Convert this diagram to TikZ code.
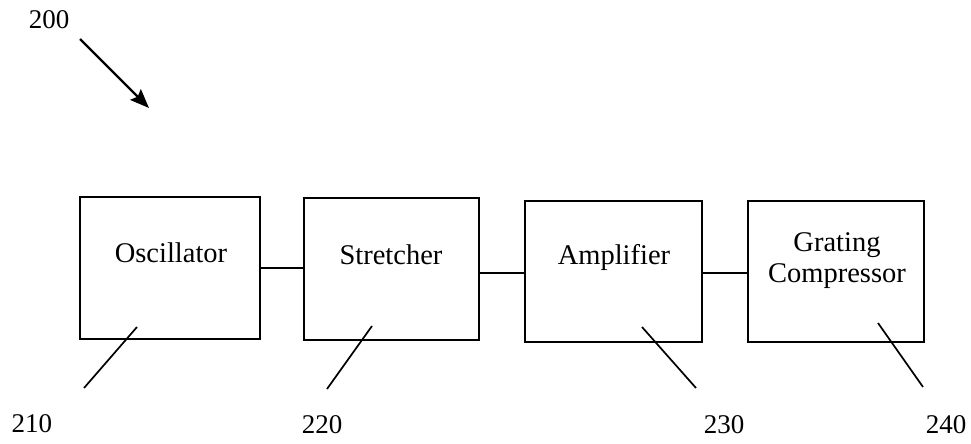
\documentclass[tikz,border=0pt]{standalone}
\usepackage{fontspec}
\setmainfont{Liberation Serif}
\usetikzlibrary{arrows.meta}
\begin{document}
\begin{tikzpicture}[x=1pt,y=-1pt,
  block/.style={draw=black,line width=2.8pt,rectangle,inner sep=0pt},
  blocktext/.style={font=\fontsize{28.5}{32}\selectfont,inner sep=0pt,align=center},
  reftext/.style={font=\fontsize{27}{30}\selectfont,inner sep=0pt},
  link/.style={draw=black,line width=2.3pt},
  leader/.style={draw=black,line width=1.7pt}]
\useasboundingbox (0,0) rectangle (971,444);

% blocks of the chain
\node[block,minimum width=180pt,minimum height=142pt] (osc) at (170,268) {};
\node[block,minimum width=175pt,minimum height=142pt] (str) at (391.5,269) {};
\node[block,minimum width=177pt,minimum height=141pt] (amp) at (613.5,271.5) {};
\node[block,minimum width=176pt,minimum height=141pt] (grc) at (836,271.5) {};

% block captions
\node[blocktext] (oscT) at (171,253) {Oscillator};
\node[blocktext] (strT) at (391,255) {Stretcher};
\node[blocktext] (ampT) at (614,257) {Amplifier};
\node[blocktext] (grcT) at (837,261) {Grating\\[-1pt]Compressor};

% links between blocks
\draw[link] (osc.east) -- (osc.east -| str.west);
\draw[link] ([yshift=-4pt]str.east) -- ([yshift=-4pt]str.east -| amp.west);
\draw[link] ([yshift=-1.5pt]amp.east) -- ([yshift=-1.5pt]amp.east -| grc.west);

% reference numerals
\node[reftext] (n200) at (49,20) {200};
\node[reftext] (n210) at (32,424) {210};
\node[reftext] (n220) at (322,425) {220};
\node[reftext] (n230) at (724,425) {230};
\node[reftext] (n240) at (946,425) {240};

% overall arrow
\coordinate (a0) at (80,39);
\coordinate (a1) at (149,108);
\draw[line width=2.3pt,-{Stealth[length=19pt,width=15pt,inset=3pt]}] (a0) -- (a1);

% leader lines
\coordinate (l1a) at (137,327); \coordinate (l1b) at (84,388);
\coordinate (l2a) at (372,326); \coordinate (l2b) at (327,389);
\coordinate (l3a) at (642,327); \coordinate (l3b) at (696,388);
\coordinate (l4a) at (878,323); \coordinate (l4b) at (923,387);
\draw[leader] (l1a) -- (l1b);
\draw[leader] (l2a) -- (l2b);
\draw[leader] (l3a) -- (l3b);
\draw[leader] (l4a) -- (l4b);
\end{tikzpicture}
\end{document}
